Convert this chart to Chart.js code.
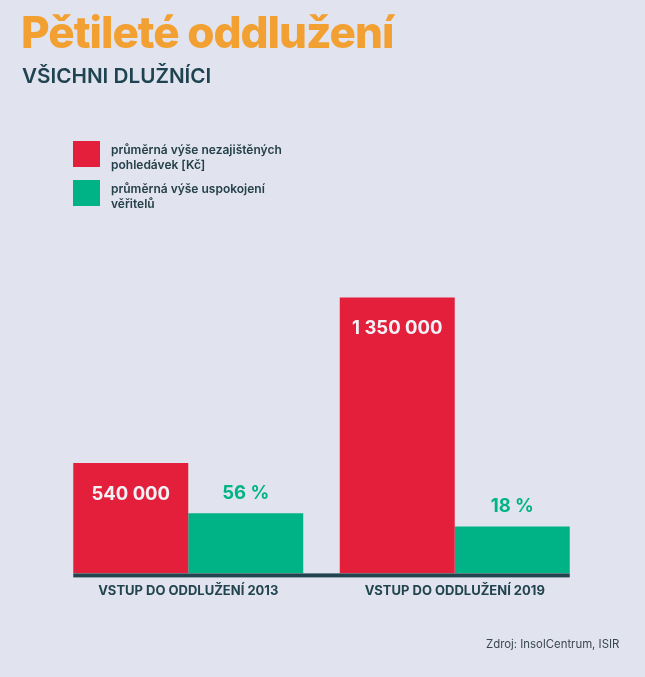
<!DOCTYPE html>
<html lang="cs">
<head>
<meta charset="utf-8">
<title>Pětileté oddlužení</title>
<script src="https://cdn.jsdelivr.net/npm/chart.js@4.4.0/dist/chart.umd.min.js"></script>
<style>
    body { margin: 0; background: #e1e3ee; font-family: Inter, "Noto Sans", sans-serif; }
    #wrap { position: relative; width: 645px; height: 677px; overflow: hidden; }
    #chart { position: absolute; left: 0; top: 0; }
    h1 { position: absolute; left: 21px; top: 10px; margin: 0; font-size: 44px; line-height: 44px; font-weight: 800; color: #f2a031; letter-spacing: -1px; }
    h2 { position: absolute; left: 22px; top: 66px; margin: 0; font-size: 20.7px; line-height: 20px; font-weight: 600; color: #1f4350; }
    .legend-item { position: absolute; left: 73px; }
    .legend-item .box { position: absolute; left: 0; top: 0; width: 27px; height: 26px; }
    .legend-item .txt { position: absolute; left: 38px; top: 1px; width: 200px; font-size: 12px; line-height: 15px; font-weight: 600; color: #25404a; }
    #source { position: absolute; left: 486px; top: 637px; font-size: 11.4px; color: #3a4750; }
</style>
</head>
<body>
<div id="wrap">
    <canvas id="chart" width="645" height="677"></canvas>
    <h1>Pětileté oddlužení</h1>
    <h2>VŠICHNI DLUŽNÍCI</h2>
    <div id="legend"></div>
    <div id="source">Zdroj: InsolCentrum, ISIR</div>
</div>
<script>
// Data
const categories = ['VSTUP DO ODDLUŽENÍ 2013', 'VSTUP DO ODDLUŽENÍ 2019'];
const debtValues = [540000, 1350000];      // průměrná výše nezajištěných pohledávek [Kč]
const satisfactionValues = [56, 18];       // průměrná výše uspokojení věřitelů [%]
const seriesLabels = [
    ['průměrná výše nezajištěných', 'pohledávek [Kč]'],
    ['průměrná výše uspokojení', 'věřitelů']
];

const RED = '#e41f3b';
const GREEN = '#00b386';
const DARK = '#22444f';

// the green bars in the original sit on a shifted scale
const Y2_MIN = -116;
const Y2_MAX = 807;

function formatCz(n) {
    return String(n).replace(/\B(?=(\d{3})+(?!\d))/g, ' ');
}

// HTML legend
const legendEl = document.getElementById('legend');
[RED, GREEN].forEach(function(color, i) {
    const item = document.createElement('div');
    item.className = 'legend-item';
    item.style.top = (141 + i * 39) + 'px';
    item.innerHTML = '<div class="box" style="background:' + color + '"></div>' +
        '<div class="txt">' + seriesLabels[i].join('<br>') + '</div>';
    legendEl.appendChild(item);
});

// Value labels and the base line
const barDecor = {
    id: 'barDecor',
    afterDatasetsDraw(chart) {
        const ctx = chart.ctx;
        const first = chart.getDatasetMeta(0).data[0];
        const last = chart.getDatasetMeta(1).data[categories.length - 1];
        const left = first.x - first.width / 2;
        const right = last.x + last.width / 2;
        ctx.save();
        ctx.fillStyle = DARK;
        ctx.fillRect(left, chart.chartArea.bottom, right - left, 4);

        ctx.font = '700 18.5px Inter, sans-serif';
        ctx.textAlign = 'center';
        ctx.textBaseline = 'middle';
        chart.getDatasetMeta(0).data.forEach(function(bar, i) {
            ctx.fillStyle = '#f2f2f6';
            ctx.fillText(formatCz(debtValues[i]), bar.x, bar.y + 31);
        });
        chart.getDatasetMeta(1).data.forEach(function(bar, i) {
            ctx.fillStyle = GREEN;
            ctx.fillText(satisfactionValues[i] + ' %', bar.x, bar.y - 20);
        });
        ctx.restore();
    }
};

const ctx = document.getElementById('chart').getContext('2d');
new Chart(ctx, {
    type: 'bar',
    data: {
        labels: categories,
        datasets: [{
            label: seriesLabels[0].join(' '),
            data: debtValues,
            backgroundColor: RED,
            yAxisID: 'y',
            barPercentage: 1,
            categoryPercentage: 0.863
        }, {
            label: seriesLabels[1].join(' '),
            data: satisfactionValues,
            backgroundColor: GREEN,
            yAxisID: 'y2',
            base: Y2_MIN,
            barPercentage: 1,
            categoryPercentage: 0.863
        }]
    },
    options: {
        responsive: false,
        animation: false,
        layout: {
            padding: { left: 55, right: 57, top: 250, bottom: 68 }
        },
        plugins: {
            legend: { display: false },
            tooltip: { enabled: false }
        },
        scales: {
            x: {
                grid: { display: false, drawTicks: false },
                border: { display: false },
                ticks: {
                    color: DARK,
                    padding: 10,
                    font: { family: 'Inter', size: 13, weight: '700' }
                }
            },
            y: {
                display: false,
                min: 0,
                max: 1583000
            },
            y2: {
                display: false,
                min: Y2_MIN,
                max: Y2_MAX
            }
        }
    },
    plugins: [barDecor]
});
</script>
</body>
</html>
